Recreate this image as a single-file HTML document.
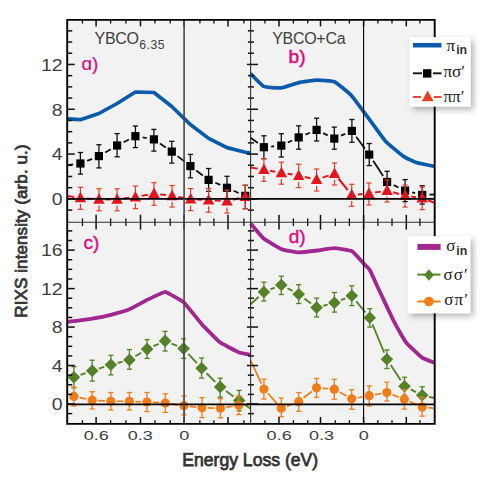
<!DOCTYPE html>
<html><head><meta charset="utf-8"><style>
html,body{margin:0;padding:0;background:#fff;width:491px;height:490px;overflow:hidden}
svg{display:block;font-family:"Liberation Sans",sans-serif}
</style></head><body>
<svg width="491" height="490" viewBox="0 0 491 490">
<defs>
<clipPath id="cpT"><rect x="67.2" y="19.9" width="367.4" height="202.3"/></clipPath>
<clipPath id="cpB"><rect x="67.2" y="222.2" width="367.4" height="201.7"/></clipPath>
<filter id="sh" x="-20%" y="-20%" width="150%" height="150%"><feGaussianBlur in="SourceAlpha" stdDeviation="3.2"/><feOffset dx="3" dy="3"/><feComponentTransfer><feFuncA type="linear" slope="0.3"/></feComponentTransfer><feMerge><feMergeNode/><feMergeNode in="SourceGraphic"/></feMerge></filter>
</defs>
<rect x="67.2" y="19.9" width="367.4" height="404.0" fill="#f2f2f2"/>
<g clip-path="url(#cpT)">
<polyline points="67.0,118.9 80.4,119.7 98.9,113.5 117.1,103.5 135.4,92.0 153.9,92.5 171.8,106.5 190.3,124.5 208.6,138.4 227.0,147.6 245.3,152.2 250.6,153.1" fill="none" stroke="#0a5cab" stroke-width="3.70" stroke-linejoin="round"/>
<path d="M250.60,73.70 C251.36,74.44 261.83,85.57 263.60,86.40 C265.37,87.23 278.95,88.12 281.00,87.90 C283.05,87.68 296.71,83.05 298.80,82.60 C300.89,82.14 314.72,80.15 316.80,80.10 C318.88,80.05 332.39,80.92 334.40,81.80 C336.41,82.68 349.15,93.00 351.20,95.20 C353.25,97.41 367.50,116.92 369.50,119.60 C371.50,122.28 383.52,139.05 385.50,141.20 C387.48,143.35 401.66,155.14 403.50,156.40 C405.34,157.66 415.29,162.22 417.10,162.80 C418.91,163.38 433.49,166.19 434.50,166.40" fill="none" stroke="#0a5cab" stroke-width="3.70" stroke-linejoin="round"/>
</g>
<g clip-path="url(#cpB)">
<path d="M67.00,321.80 C67.29,321.78 72.85,321.33 73.90,321.20 C74.95,321.07 90.66,318.97 92.20,318.70 C93.74,318.43 109.35,315.19 110.90,314.80 C112.45,314.41 127.89,309.92 129.40,309.30 C130.91,308.68 145.61,300.63 147.10,299.90 C148.59,299.17 163.57,291.70 165.10,291.80 C166.63,291.90 182.27,301.05 183.80,302.40 C185.33,303.75 200.28,322.52 201.80,324.20 C203.32,325.88 218.65,341.42 220.20,342.60 C221.75,343.78 237.73,351.99 239.00,352.50 C240.27,353.01 250.12,354.80 250.60,354.90" fill="none" stroke="#a0288e" stroke-width="3.80" stroke-linejoin="round"/>
<path d="M250.60,223.40 C251.45,224.39 261.32,236.58 263.40,238.30 C265.48,240.02 279.43,248.26 281.80,249.20 C284.17,250.14 296.45,252.32 298.90,252.40 C301.35,252.48 316.13,250.68 318.50,250.40 C320.87,250.12 332.17,248.15 334.40,248.20 C336.63,248.25 350.05,250.17 352.00,251.20 C353.95,252.23 362.51,262.35 363.70,263.60 C364.89,264.85 368.77,268.22 369.80,270.00 C370.83,271.78 377.67,287.03 379.20,290.30 C380.73,293.57 391.31,316.19 392.70,319.00 C394.09,321.81 399.08,330.91 400.00,332.50 C400.92,334.09 405.03,341.23 406.50,342.90 C407.97,344.57 420.13,356.27 422.00,357.60 C423.87,358.93 433.67,362.45 434.50,362.80" fill="none" stroke="#a0288e" stroke-width="3.80" stroke-linejoin="round"/>
</g>
<line x1="67.20" y1="195.90" x2="74.17" y2="196.96" stroke="#e5131c" stroke-width="2.00"/>
<line x1="86.68" y1="198.41" x2="92.72" y2="198.89" stroke="#e5131c" stroke-width="2.00"/>
<line x1="105.30" y1="199.40" x2="110.80" y2="199.40" stroke="#e5131c" stroke-width="2.00"/>
<line x1="123.35" y1="198.58" x2="129.15" y2="197.82" stroke="#e5131c" stroke-width="2.00"/>
<line x1="141.60" y1="195.87" x2="147.80" y2="194.73" stroke="#e5131c" stroke-width="2.00"/>
<line x1="160.25" y1="194.39" x2="165.85" y2="195.11" stroke="#e5131c" stroke-width="2.00"/>
<line x1="178.30" y1="197.01" x2="184.40" y2="198.09" stroke="#e5131c" stroke-width="2.00"/>
<line x1="196.89" y1="199.48" x2="202.31" y2="199.72" stroke="#e5131c" stroke-width="2.00"/>
<line x1="214.89" y1="200.41" x2="220.71" y2="200.79" stroke="#e5131c" stroke-width="2.00"/>
<line x1="233.11" y1="199.66" x2="239.19" y2="198.14" stroke="#e5131c" stroke-width="2.00"/>
<line x1="67.20" y1="165.20" x2="73.16" y2="164.43" stroke="#111" stroke-width="1.80"/>
<line x1="87.18" y1="160.79" x2="92.12" y2="158.81" stroke="#111" stroke-width="1.80"/>
<line x1="105.21" y1="152.43" x2="110.79" y2="149.17" stroke="#111" stroke-width="1.80"/>
<line x1="123.61" y1="142.19" x2="128.89" y2="139.51" stroke="#111" stroke-width="1.80"/>
<line x1="142.59" y1="137.44" x2="146.71" y2="138.16" stroke="#111" stroke-width="1.80"/>
<line x1="159.93" y1="143.51" x2="165.77" y2="147.49" stroke="#111" stroke-width="1.80"/>
<line x1="177.56" y1="156.09" x2="184.64" y2="161.61" stroke="#111" stroke-width="1.80"/>
<line x1="196.22" y1="170.51" x2="202.78" y2="175.49" stroke="#111" stroke-width="1.80"/>
<line x1="215.31" y1="182.78" x2="220.29" y2="184.92" stroke="#111" stroke-width="1.80"/>
<line x1="233.68" y1="190.75" x2="238.62" y2="192.95" stroke="#111" stroke-width="1.80"/>
<line x1="250.60" y1="167.50" x2="257.68" y2="168.62" stroke="#e5131c" stroke-width="2.00"/>
<line x1="270.10" y1="170.73" x2="275.20" y2="171.67" stroke="#e5131c" stroke-width="2.00"/>
<line x1="287.62" y1="173.77" x2="292.48" y2="174.53" stroke="#e5131c" stroke-width="2.00"/>
<line x1="304.84" y1="176.91" x2="310.46" y2="178.19" stroke="#e5131c" stroke-width="2.00"/>
<line x1="322.57" y1="177.60" x2="328.53" y2="175.60" stroke="#e5131c" stroke-width="2.00"/>
<line x1="338.46" y1="178.50" x2="347.74" y2="190.00" stroke="#e5131c" stroke-width="2.00"/>
<line x1="357.98" y1="194.43" x2="362.62" y2="194.07" stroke="#e5131c" stroke-width="2.00"/>
<line x1="375.12" y1="192.58" x2="380.88" y2="191.62" stroke="#e5131c" stroke-width="2.00"/>
<line x1="393.16" y1="192.32" x2="399.04" y2="193.98" stroke="#e5131c" stroke-width="2.00"/>
<line x1="411.34" y1="196.54" x2="415.96" y2="197.16" stroke="#e5131c" stroke-width="2.00"/>
<line x1="428.07" y1="200.29" x2="434.50" y2="202.80" stroke="#e5131c" stroke-width="2.00"/>
<line x1="250.60" y1="137.80" x2="257.94" y2="142.99" stroke="#111" stroke-width="1.80"/>
<line x1="271.17" y1="146.53" x2="274.03" y2="146.27" stroke="#111" stroke-width="1.80"/>
<line x1="287.90" y1="142.49" x2="292.10" y2="140.51" stroke="#111" stroke-width="1.80"/>
<line x1="305.43" y1="134.58" x2="309.87" y2="132.72" stroke="#111" stroke-width="1.80"/>
<line x1="323.15" y1="133.12" x2="327.75" y2="135.38" stroke="#111" stroke-width="1.80"/>
<line x1="340.99" y1="135.67" x2="345.21" y2="133.83" stroke="#111" stroke-width="1.80"/>
<line x1="356.20" y1="136.80" x2="364.90" y2="148.70" stroke="#111" stroke-width="1.80"/>
<line x1="373.19" y1="160.71" x2="383.11" y2="175.89" stroke="#111" stroke-width="1.80"/>
<line x1="393.69" y1="185.15" x2="398.51" y2="187.45" stroke="#111" stroke-width="1.80"/>
<line x1="412.18" y1="192.38" x2="415.12" y2="193.12" stroke="#111" stroke-width="1.80"/>
<line x1="429.50" y1="194.66" x2="434.50" y2="194.50" stroke="#111" stroke-width="1.80"/>
<line x1="67.20" y1="395.30" x2="67.98" y2="395.43" stroke="#f07d19" stroke-width="1.75"/>
<line x1="79.77" y1="397.62" x2="86.33" y2="398.98" stroke="#f07d19" stroke-width="1.75"/>
<line x1="98.19" y1="400.55" x2="104.91" y2="400.95" stroke="#f07d19" stroke-width="1.75"/>
<line x1="116.90" y1="401.30" x2="123.40" y2="401.30" stroke="#f07d19" stroke-width="1.75"/>
<line x1="135.40" y1="401.54" x2="140.90" y2="401.76" stroke="#f07d19" stroke-width="1.75"/>
<line x1="152.89" y1="402.33" x2="159.31" y2="402.67" stroke="#f07d19" stroke-width="1.75"/>
<line x1="171.24" y1="403.86" x2="177.96" y2="404.84" stroke="#f07d19" stroke-width="1.75"/>
<line x1="189.86" y1="406.39" x2="196.04" y2="407.11" stroke="#f07d19" stroke-width="1.75"/>
<line x1="208.00" y1="407.93" x2="214.40" y2="408.07" stroke="#f07d19" stroke-width="1.75"/>
<line x1="226.33" y1="407.27" x2="232.87" y2="406.23" stroke="#f07d19" stroke-width="1.75"/>
<line x1="244.79" y1="404.89" x2="250.60" y2="404.50" stroke="#f07d19" stroke-width="1.75"/>
<line x1="80.50" y1="374.96" x2="85.60" y2="373.14" stroke="#558228" stroke-width="1.85"/>
<line x1="98.87" y1="368.66" x2="104.23" y2="366.94" stroke="#558228" stroke-width="1.85"/>
<line x1="117.67" y1="363.01" x2="122.63" y2="361.69" stroke="#558228" stroke-width="1.85"/>
<line x1="135.38" y1="356.25" x2="141.12" y2="352.75" stroke="#558228" stroke-width="1.85"/>
<line x1="153.47" y1="346.20" x2="158.73" y2="343.80" stroke="#558228" stroke-width="1.85"/>
<line x1="171.56" y1="343.59" x2="177.14" y2="345.91" stroke="#558228" stroke-width="1.85"/>
<line x1="188.32" y1="353.77" x2="196.88" y2="363.13" stroke="#558228" stroke-width="1.85"/>
<line x1="206.55" y1="373.25" x2="215.25" y2="381.95" stroke="#558228" stroke-width="1.85"/>
<line x1="225.88" y1="390.99" x2="233.52" y2="396.51" stroke="#558228" stroke-width="1.85"/>
<line x1="244.88" y1="404.69" x2="250.60" y2="408.80" stroke="#558228" stroke-width="1.85"/>
<line x1="250.60" y1="360.40" x2="261.37" y2="383.56" stroke="#f07d19" stroke-width="1.75"/>
<line x1="267.93" y1="393.45" x2="277.27" y2="403.75" stroke="#f07d19" stroke-width="1.75"/>
<line x1="286.92" y1="406.10" x2="293.08" y2="403.80" stroke="#f07d19" stroke-width="1.75"/>
<line x1="303.43" y1="398.01" x2="311.77" y2="391.49" stroke="#f07d19" stroke-width="1.75"/>
<line x1="322.48" y1="388.27" x2="328.32" y2="388.73" stroke="#f07d19" stroke-width="1.75"/>
<line x1="339.55" y1="392.10" x2="346.45" y2="395.90" stroke="#f07d19" stroke-width="1.75"/>
<line x1="357.61" y1="397.75" x2="363.29" y2="396.75" stroke="#f07d19" stroke-width="1.75"/>
<line x1="375.10" y1="394.63" x2="381.00" y2="393.57" stroke="#f07d19" stroke-width="1.75"/>
<line x1="392.49" y1="394.68" x2="398.71" y2="397.12" stroke="#f07d19" stroke-width="1.75"/>
<line x1="409.80" y1="401.70" x2="416.70" y2="404.70" stroke="#f07d19" stroke-width="1.75"/>
<line x1="428.17" y1="407.68" x2="434.50" y2="408.30" stroke="#f07d19" stroke-width="1.75"/>
<line x1="250.60" y1="304.30" x2="258.76" y2="296.75" stroke="#558228" stroke-width="1.85"/>
<line x1="270.39" y1="289.39" x2="274.81" y2="287.61" stroke="#558228" stroke-width="1.85"/>
<line x1="287.49" y1="288.27" x2="292.51" y2="290.93" stroke="#558228" stroke-width="1.85"/>
<line x1="304.30" y1="298.39" x2="311.00" y2="303.41" stroke="#558228" stroke-width="1.85"/>
<line x1="323.35" y1="305.74" x2="327.65" y2="304.56" stroke="#558228" stroke-width="1.85"/>
<line x1="340.91" y1="300.12" x2="345.29" y2="298.38" stroke="#558228" stroke-width="1.85"/>
<line x1="356.23" y1="301.22" x2="365.37" y2="312.38" stroke="#558228" stroke-width="1.85"/>
<line x1="372.47" y1="324.27" x2="384.23" y2="352.73" stroke="#558228" stroke-width="1.85"/>
<line x1="390.72" y1="365.06" x2="400.68" y2="380.34" stroke="#558228" stroke-width="1.85"/>
<line x1="410.73" y1="389.40" x2="415.97" y2="392.10" stroke="#558228" stroke-width="1.85"/>
<line x1="429.04" y1="396.80" x2="434.50" y2="398.00" stroke="#558228" stroke-width="1.85"/>
<line x1="80.40" y1="152.50" x2="80.40" y2="174.10" stroke="#111" stroke-width="1.30"/>
<line x1="77.80" y1="152.50" x2="83.00" y2="152.50" stroke="#111" stroke-width="1.30"/>
<line x1="77.80" y1="174.10" x2="83.00" y2="174.10" stroke="#111" stroke-width="1.30"/>
<rect x="76.30" y="159.40" width="8.20" height="8.20" fill="#000"/>
<line x1="98.90" y1="144.70" x2="98.90" y2="167.90" stroke="#111" stroke-width="1.30"/>
<line x1="96.30" y1="144.70" x2="101.50" y2="144.70" stroke="#111" stroke-width="1.30"/>
<line x1="96.30" y1="167.90" x2="101.50" y2="167.90" stroke="#111" stroke-width="1.30"/>
<rect x="94.80" y="152.00" width="8.20" height="8.20" fill="#000"/>
<line x1="117.10" y1="133.60" x2="117.10" y2="156.80" stroke="#111" stroke-width="1.30"/>
<line x1="114.50" y1="133.60" x2="119.70" y2="133.60" stroke="#111" stroke-width="1.30"/>
<line x1="114.50" y1="156.80" x2="119.70" y2="156.80" stroke="#111" stroke-width="1.30"/>
<rect x="113.00" y="141.40" width="8.20" height="8.20" fill="#000"/>
<line x1="135.40" y1="126.00" x2="135.40" y2="147.60" stroke="#111" stroke-width="1.30"/>
<line x1="132.80" y1="126.00" x2="138.00" y2="126.00" stroke="#111" stroke-width="1.30"/>
<line x1="132.80" y1="147.60" x2="138.00" y2="147.60" stroke="#111" stroke-width="1.30"/>
<rect x="131.30" y="132.10" width="8.20" height="8.20" fill="#000"/>
<line x1="153.90" y1="129.40" x2="153.90" y2="151.10" stroke="#111" stroke-width="1.30"/>
<line x1="151.30" y1="129.40" x2="156.50" y2="129.40" stroke="#111" stroke-width="1.30"/>
<line x1="151.30" y1="151.10" x2="156.50" y2="151.10" stroke="#111" stroke-width="1.30"/>
<rect x="149.80" y="135.30" width="8.20" height="8.20" fill="#000"/>
<line x1="171.80" y1="141.30" x2="171.80" y2="163.10" stroke="#111" stroke-width="1.30"/>
<line x1="169.20" y1="141.30" x2="174.40" y2="141.30" stroke="#111" stroke-width="1.30"/>
<line x1="169.20" y1="163.10" x2="174.40" y2="163.10" stroke="#111" stroke-width="1.30"/>
<rect x="167.70" y="147.50" width="8.20" height="8.20" fill="#000"/>
<line x1="190.40" y1="154.40" x2="190.40" y2="177.80" stroke="#111" stroke-width="1.30"/>
<line x1="187.80" y1="154.40" x2="193.00" y2="154.40" stroke="#111" stroke-width="1.30"/>
<line x1="187.80" y1="177.80" x2="193.00" y2="177.80" stroke="#111" stroke-width="1.30"/>
<rect x="186.30" y="162.00" width="8.20" height="8.20" fill="#000"/>
<line x1="208.60" y1="168.50" x2="208.60" y2="191.20" stroke="#111" stroke-width="1.30"/>
<line x1="206.00" y1="168.50" x2="211.20" y2="168.50" stroke="#111" stroke-width="1.30"/>
<line x1="206.00" y1="191.20" x2="211.20" y2="191.20" stroke="#111" stroke-width="1.30"/>
<rect x="204.50" y="175.80" width="8.20" height="8.20" fill="#000"/>
<line x1="227.00" y1="176.30" x2="227.00" y2="199.20" stroke="#111" stroke-width="1.30"/>
<line x1="224.40" y1="176.30" x2="229.60" y2="176.30" stroke="#111" stroke-width="1.30"/>
<line x1="224.40" y1="199.20" x2="229.60" y2="199.20" stroke="#111" stroke-width="1.30"/>
<rect x="222.90" y="183.70" width="8.20" height="8.20" fill="#000"/>
<line x1="245.30" y1="185.30" x2="245.30" y2="208.70" stroke="#111" stroke-width="1.30"/>
<line x1="242.70" y1="185.30" x2="247.90" y2="185.30" stroke="#111" stroke-width="1.30"/>
<line x1="242.70" y1="208.70" x2="247.90" y2="208.70" stroke="#111" stroke-width="1.30"/>
<rect x="241.20" y="191.80" width="8.20" height="8.20" fill="#000"/>
<line x1="80.40" y1="187.30" x2="80.40" y2="198.60" stroke="#e8392a" stroke-width="1.20"/>
<line x1="80.40" y1="204.10" x2="80.40" y2="209.30" stroke="#e8392a" stroke-width="1.20"/>
<line x1="77.80" y1="187.30" x2="83.00" y2="187.30" stroke="#e8392a" stroke-width="1.20"/>
<line x1="77.80" y1="209.30" x2="83.00" y2="209.30" stroke="#e8392a" stroke-width="1.20"/>
<polygon points="80.40,191.80 74.70,202.30 86.10,202.30" fill="#e5131c"/>
<line x1="99.00" y1="188.80" x2="99.00" y2="200.10" stroke="#e8392a" stroke-width="1.20"/>
<line x1="99.00" y1="205.60" x2="99.00" y2="210.80" stroke="#e8392a" stroke-width="1.20"/>
<line x1="96.40" y1="188.80" x2="101.60" y2="188.80" stroke="#e8392a" stroke-width="1.20"/>
<line x1="96.40" y1="210.80" x2="101.60" y2="210.80" stroke="#e8392a" stroke-width="1.20"/>
<polygon points="99.00,193.30 93.30,203.80 104.70,203.80" fill="#e5131c"/>
<line x1="117.10" y1="188.80" x2="117.10" y2="200.10" stroke="#e8392a" stroke-width="1.20"/>
<line x1="117.10" y1="205.60" x2="117.10" y2="210.80" stroke="#e8392a" stroke-width="1.20"/>
<line x1="114.50" y1="188.80" x2="119.70" y2="188.80" stroke="#e8392a" stroke-width="1.20"/>
<line x1="114.50" y1="210.80" x2="119.70" y2="210.80" stroke="#e8392a" stroke-width="1.20"/>
<polygon points="117.10,193.30 111.40,203.80 122.80,203.80" fill="#e5131c"/>
<line x1="135.40" y1="186.10" x2="135.40" y2="197.70" stroke="#e8392a" stroke-width="1.20"/>
<line x1="135.40" y1="203.20" x2="135.40" y2="208.70" stroke="#e8392a" stroke-width="1.20"/>
<line x1="132.80" y1="186.10" x2="138.00" y2="186.10" stroke="#e8392a" stroke-width="1.20"/>
<line x1="132.80" y1="208.70" x2="138.00" y2="208.70" stroke="#e8392a" stroke-width="1.20"/>
<polygon points="135.40,190.90 129.70,201.40 141.10,201.40" fill="#e5131c"/>
<line x1="154.00" y1="182.70" x2="154.00" y2="194.30" stroke="#e8392a" stroke-width="1.20"/>
<line x1="154.00" y1="199.80" x2="154.00" y2="205.30" stroke="#e8392a" stroke-width="1.20"/>
<line x1="151.40" y1="182.70" x2="156.60" y2="182.70" stroke="#e8392a" stroke-width="1.20"/>
<line x1="151.40" y1="205.30" x2="156.60" y2="205.30" stroke="#e8392a" stroke-width="1.20"/>
<polygon points="154.00,187.50 148.30,198.00 159.70,198.00" fill="#e5131c"/>
<line x1="172.10" y1="185.50" x2="172.10" y2="196.60" stroke="#e8392a" stroke-width="1.20"/>
<line x1="172.10" y1="202.10" x2="172.10" y2="207.10" stroke="#e8392a" stroke-width="1.20"/>
<line x1="169.50" y1="185.50" x2="174.70" y2="185.50" stroke="#e8392a" stroke-width="1.20"/>
<line x1="169.50" y1="207.10" x2="174.70" y2="207.10" stroke="#e8392a" stroke-width="1.20"/>
<polygon points="172.10,189.80 166.40,200.30 177.80,200.30" fill="#e5131c"/>
<line x1="190.60" y1="188.60" x2="190.60" y2="199.90" stroke="#e8392a" stroke-width="1.20"/>
<line x1="190.60" y1="205.40" x2="190.60" y2="210.60" stroke="#e8392a" stroke-width="1.20"/>
<line x1="188.00" y1="188.60" x2="193.20" y2="188.60" stroke="#e8392a" stroke-width="1.20"/>
<line x1="188.00" y1="210.60" x2="193.20" y2="210.60" stroke="#e8392a" stroke-width="1.20"/>
<polygon points="190.60,193.10 184.90,203.60 196.30,203.60" fill="#e5131c"/>
<line x1="208.60" y1="188.60" x2="208.60" y2="200.70" stroke="#e8392a" stroke-width="1.20"/>
<line x1="208.60" y1="206.20" x2="208.60" y2="212.20" stroke="#e8392a" stroke-width="1.20"/>
<line x1="206.00" y1="188.60" x2="211.20" y2="188.60" stroke="#e8392a" stroke-width="1.20"/>
<line x1="206.00" y1="212.20" x2="211.20" y2="212.20" stroke="#e8392a" stroke-width="1.20"/>
<polygon points="208.60,193.90 202.90,204.40 214.30,204.40" fill="#e5131c"/>
<line x1="227.00" y1="190.20" x2="227.00" y2="201.90" stroke="#e8392a" stroke-width="1.20"/>
<line x1="227.00" y1="207.40" x2="227.00" y2="213.00" stroke="#e8392a" stroke-width="1.20"/>
<line x1="224.40" y1="190.20" x2="229.60" y2="190.20" stroke="#e8392a" stroke-width="1.20"/>
<line x1="224.40" y1="213.00" x2="229.60" y2="213.00" stroke="#e8392a" stroke-width="1.20"/>
<polygon points="227.00,195.10 221.30,205.60 232.70,205.60" fill="#e5131c"/>
<line x1="245.30" y1="185.30" x2="245.30" y2="197.30" stroke="#e8392a" stroke-width="1.20"/>
<line x1="245.30" y1="202.80" x2="245.30" y2="208.70" stroke="#e8392a" stroke-width="1.20"/>
<line x1="242.70" y1="185.30" x2="247.90" y2="185.30" stroke="#e8392a" stroke-width="1.20"/>
<line x1="242.70" y1="208.70" x2="247.90" y2="208.70" stroke="#e8392a" stroke-width="1.20"/>
<polygon points="245.30,190.50 239.60,201.00 251.00,201.00" fill="#e5131c"/>
<line x1="263.90" y1="135.80" x2="263.90" y2="158.70" stroke="#111" stroke-width="1.30"/>
<line x1="261.30" y1="135.80" x2="266.50" y2="135.80" stroke="#111" stroke-width="1.30"/>
<line x1="261.30" y1="158.70" x2="266.50" y2="158.70" stroke="#111" stroke-width="1.30"/>
<rect x="259.80" y="143.10" width="8.20" height="8.20" fill="#000"/>
<line x1="281.30" y1="133.70" x2="281.30" y2="157.00" stroke="#111" stroke-width="1.30"/>
<line x1="278.70" y1="133.70" x2="283.90" y2="133.70" stroke="#111" stroke-width="1.30"/>
<line x1="278.70" y1="157.00" x2="283.90" y2="157.00" stroke="#111" stroke-width="1.30"/>
<rect x="277.20" y="141.50" width="8.20" height="8.20" fill="#000"/>
<line x1="298.70" y1="125.80" x2="298.70" y2="149.20" stroke="#111" stroke-width="1.30"/>
<line x1="296.10" y1="125.80" x2="301.30" y2="125.80" stroke="#111" stroke-width="1.30"/>
<line x1="296.10" y1="149.20" x2="301.30" y2="149.20" stroke="#111" stroke-width="1.30"/>
<rect x="294.60" y="133.30" width="8.20" height="8.20" fill="#000"/>
<line x1="316.60" y1="118.20" x2="316.60" y2="141.00" stroke="#111" stroke-width="1.30"/>
<line x1="314.00" y1="118.20" x2="319.20" y2="118.20" stroke="#111" stroke-width="1.30"/>
<line x1="314.00" y1="141.00" x2="319.20" y2="141.00" stroke="#111" stroke-width="1.30"/>
<rect x="312.50" y="125.80" width="8.20" height="8.20" fill="#000"/>
<line x1="334.30" y1="127.10" x2="334.30" y2="149.20" stroke="#111" stroke-width="1.30"/>
<line x1="331.70" y1="127.10" x2="336.90" y2="127.10" stroke="#111" stroke-width="1.30"/>
<line x1="331.70" y1="149.20" x2="336.90" y2="149.20" stroke="#111" stroke-width="1.30"/>
<rect x="330.20" y="134.50" width="8.20" height="8.20" fill="#000"/>
<line x1="351.90" y1="119.50" x2="351.90" y2="142.30" stroke="#111" stroke-width="1.30"/>
<line x1="349.30" y1="119.50" x2="354.50" y2="119.50" stroke="#111" stroke-width="1.30"/>
<line x1="349.30" y1="142.30" x2="354.50" y2="142.30" stroke="#111" stroke-width="1.30"/>
<rect x="347.80" y="126.80" width="8.20" height="8.20" fill="#000"/>
<line x1="369.20" y1="143.50" x2="369.20" y2="165.60" stroke="#111" stroke-width="1.30"/>
<line x1="366.60" y1="143.50" x2="371.80" y2="143.50" stroke="#111" stroke-width="1.30"/>
<line x1="366.60" y1="165.60" x2="371.80" y2="165.60" stroke="#111" stroke-width="1.30"/>
<rect x="365.10" y="150.50" width="8.20" height="8.20" fill="#000"/>
<line x1="387.10" y1="171.30" x2="387.10" y2="192.70" stroke="#111" stroke-width="1.30"/>
<line x1="384.50" y1="171.30" x2="389.70" y2="171.30" stroke="#111" stroke-width="1.30"/>
<line x1="384.50" y1="192.70" x2="389.70" y2="192.70" stroke="#111" stroke-width="1.30"/>
<rect x="383.00" y="177.90" width="8.20" height="8.20" fill="#000"/>
<line x1="405.10" y1="179.60" x2="405.10" y2="201.60" stroke="#111" stroke-width="1.30"/>
<line x1="402.50" y1="179.60" x2="407.70" y2="179.60" stroke="#111" stroke-width="1.30"/>
<line x1="402.50" y1="201.60" x2="407.70" y2="201.60" stroke="#111" stroke-width="1.30"/>
<rect x="401.00" y="186.50" width="8.20" height="8.20" fill="#000"/>
<line x1="422.20" y1="185.70" x2="422.20" y2="204.10" stroke="#111" stroke-width="1.30"/>
<line x1="419.60" y1="185.70" x2="424.80" y2="185.70" stroke="#111" stroke-width="1.30"/>
<line x1="419.60" y1="204.10" x2="424.80" y2="204.10" stroke="#111" stroke-width="1.30"/>
<rect x="418.10" y="190.80" width="8.20" height="8.20" fill="#000"/>
<line x1="263.90" y1="158.70" x2="263.90" y2="170.30" stroke="#e8392a" stroke-width="1.20"/>
<line x1="263.90" y1="175.80" x2="263.90" y2="181.30" stroke="#e8392a" stroke-width="1.20"/>
<line x1="261.30" y1="158.70" x2="266.50" y2="158.70" stroke="#e8392a" stroke-width="1.20"/>
<line x1="261.30" y1="181.30" x2="266.50" y2="181.30" stroke="#e8392a" stroke-width="1.20"/>
<polygon points="263.90,163.50 258.20,174.00 269.60,174.00" fill="#e5131c"/>
<line x1="281.40" y1="162.20" x2="281.40" y2="173.50" stroke="#e8392a" stroke-width="1.20"/>
<line x1="281.40" y1="179.00" x2="281.40" y2="184.20" stroke="#e8392a" stroke-width="1.20"/>
<line x1="278.80" y1="162.20" x2="284.00" y2="162.20" stroke="#e8392a" stroke-width="1.20"/>
<line x1="278.80" y1="184.20" x2="284.00" y2="184.20" stroke="#e8392a" stroke-width="1.20"/>
<polygon points="281.40,166.70 275.70,177.20 287.10,177.20" fill="#e5131c"/>
<line x1="298.70" y1="164.20" x2="298.70" y2="176.20" stroke="#e8392a" stroke-width="1.20"/>
<line x1="298.70" y1="181.70" x2="298.70" y2="187.60" stroke="#e8392a" stroke-width="1.20"/>
<line x1="296.10" y1="164.20" x2="301.30" y2="164.20" stroke="#e8392a" stroke-width="1.20"/>
<line x1="296.10" y1="187.60" x2="301.30" y2="187.60" stroke="#e8392a" stroke-width="1.20"/>
<polygon points="298.70,169.40 293.00,179.90 304.40,179.90" fill="#e5131c"/>
<line x1="316.60" y1="169.00" x2="316.60" y2="180.30" stroke="#e8392a" stroke-width="1.20"/>
<line x1="316.60" y1="185.80" x2="316.60" y2="191.00" stroke="#e8392a" stroke-width="1.20"/>
<line x1="314.00" y1="169.00" x2="319.20" y2="169.00" stroke="#e8392a" stroke-width="1.20"/>
<line x1="314.00" y1="191.00" x2="319.20" y2="191.00" stroke="#e8392a" stroke-width="1.20"/>
<polygon points="316.60,173.50 310.90,184.00 322.30,184.00" fill="#e5131c"/>
<line x1="334.50" y1="163.00" x2="334.50" y2="174.30" stroke="#e8392a" stroke-width="1.20"/>
<line x1="334.50" y1="179.80" x2="334.50" y2="185.00" stroke="#e8392a" stroke-width="1.20"/>
<line x1="331.90" y1="163.00" x2="337.10" y2="163.00" stroke="#e8392a" stroke-width="1.20"/>
<line x1="331.90" y1="185.00" x2="337.10" y2="185.00" stroke="#e8392a" stroke-width="1.20"/>
<polygon points="334.50,167.50 328.80,178.00 340.20,178.00" fill="#e5131c"/>
<line x1="351.70" y1="184.30" x2="351.70" y2="195.60" stroke="#e8392a" stroke-width="1.20"/>
<line x1="351.70" y1="201.10" x2="351.70" y2="206.30" stroke="#e8392a" stroke-width="1.20"/>
<line x1="349.10" y1="184.30" x2="354.30" y2="184.30" stroke="#e8392a" stroke-width="1.20"/>
<line x1="349.10" y1="206.30" x2="354.30" y2="206.30" stroke="#e8392a" stroke-width="1.20"/>
<polygon points="351.70,188.80 346.00,199.30 357.40,199.30" fill="#e5131c"/>
<line x1="368.90" y1="183.00" x2="368.90" y2="194.30" stroke="#e8392a" stroke-width="1.20"/>
<line x1="368.90" y1="199.80" x2="368.90" y2="205.00" stroke="#e8392a" stroke-width="1.20"/>
<line x1="366.30" y1="183.00" x2="371.50" y2="183.00" stroke="#e8392a" stroke-width="1.20"/>
<line x1="366.30" y1="205.00" x2="371.50" y2="205.00" stroke="#e8392a" stroke-width="1.20"/>
<polygon points="368.90,187.50 363.20,198.00 374.60,198.00" fill="#e5131c"/>
<line x1="387.10" y1="180.00" x2="387.10" y2="191.30" stroke="#e8392a" stroke-width="1.20"/>
<line x1="387.10" y1="196.80" x2="387.10" y2="202.00" stroke="#e8392a" stroke-width="1.20"/>
<line x1="384.50" y1="180.00" x2="389.70" y2="180.00" stroke="#e8392a" stroke-width="1.20"/>
<line x1="384.50" y1="202.00" x2="389.70" y2="202.00" stroke="#e8392a" stroke-width="1.20"/>
<polygon points="387.10,184.50 381.40,195.00 392.80,195.00" fill="#e5131c"/>
<line x1="405.10" y1="185.10" x2="405.10" y2="196.40" stroke="#e8392a" stroke-width="1.20"/>
<line x1="405.10" y1="201.90" x2="405.10" y2="207.10" stroke="#e8392a" stroke-width="1.20"/>
<line x1="402.50" y1="185.10" x2="407.70" y2="185.10" stroke="#e8392a" stroke-width="1.20"/>
<line x1="402.50" y1="207.10" x2="407.70" y2="207.10" stroke="#e8392a" stroke-width="1.20"/>
<polygon points="405.10,189.60 399.40,200.10 410.80,200.10" fill="#e5131c"/>
<line x1="422.20" y1="187.20" x2="422.20" y2="198.70" stroke="#e8392a" stroke-width="1.20"/>
<line x1="422.20" y1="204.20" x2="422.20" y2="209.60" stroke="#e8392a" stroke-width="1.20"/>
<line x1="419.60" y1="187.20" x2="424.80" y2="187.20" stroke="#e8392a" stroke-width="1.20"/>
<line x1="419.60" y1="209.60" x2="424.80" y2="209.60" stroke="#e8392a" stroke-width="1.20"/>
<polygon points="422.20,191.90 416.50,202.40 427.90,202.40" fill="#e5131c"/>
<line x1="73.90" y1="366.70" x2="73.90" y2="387.90" stroke="#558228" stroke-width="1.30"/>
<line x1="71.30" y1="366.70" x2="76.50" y2="366.70" stroke="#558228" stroke-width="1.30"/>
<line x1="71.30" y1="387.90" x2="76.50" y2="387.90" stroke="#558228" stroke-width="1.30"/>
<polygon points="73.90,371.00 80.20,377.30 73.90,383.60 67.60,377.30" fill="#558228"/>
<line x1="92.20" y1="360.20" x2="92.20" y2="381.10" stroke="#558228" stroke-width="1.30"/>
<line x1="89.60" y1="360.20" x2="94.80" y2="360.20" stroke="#558228" stroke-width="1.30"/>
<line x1="89.60" y1="381.10" x2="94.80" y2="381.10" stroke="#558228" stroke-width="1.30"/>
<polygon points="92.20,364.50 98.50,370.80 92.20,377.10 85.90,370.80" fill="#558228"/>
<line x1="110.90" y1="355.30" x2="110.90" y2="374.90" stroke="#558228" stroke-width="1.30"/>
<line x1="108.30" y1="355.30" x2="113.50" y2="355.30" stroke="#558228" stroke-width="1.30"/>
<line x1="108.30" y1="374.90" x2="113.50" y2="374.90" stroke="#558228" stroke-width="1.30"/>
<polygon points="110.90,358.50 117.20,364.80 110.90,371.10 104.60,364.80" fill="#558228"/>
<line x1="129.40" y1="349.60" x2="129.40" y2="369.20" stroke="#558228" stroke-width="1.30"/>
<line x1="126.80" y1="349.60" x2="132.00" y2="349.60" stroke="#558228" stroke-width="1.30"/>
<line x1="126.80" y1="369.20" x2="132.00" y2="369.20" stroke="#558228" stroke-width="1.30"/>
<polygon points="129.40,353.60 135.70,359.90 129.40,366.20 123.10,359.90" fill="#558228"/>
<line x1="147.10" y1="339.60" x2="147.10" y2="358.40" stroke="#558228" stroke-width="1.30"/>
<line x1="144.50" y1="339.60" x2="149.70" y2="339.60" stroke="#558228" stroke-width="1.30"/>
<line x1="144.50" y1="358.40" x2="149.70" y2="358.40" stroke="#558228" stroke-width="1.30"/>
<polygon points="147.10,342.80 153.40,349.10 147.10,355.40 140.80,349.10" fill="#558228"/>
<line x1="165.10" y1="331.40" x2="165.10" y2="351.00" stroke="#558228" stroke-width="1.30"/>
<line x1="162.50" y1="331.40" x2="167.70" y2="331.40" stroke="#558228" stroke-width="1.30"/>
<line x1="162.50" y1="351.00" x2="167.70" y2="351.00" stroke="#558228" stroke-width="1.30"/>
<polygon points="165.10,334.60 171.40,340.90 165.10,347.20 158.80,340.90" fill="#558228"/>
<line x1="183.60" y1="338.80" x2="183.60" y2="358.40" stroke="#558228" stroke-width="1.30"/>
<line x1="181.00" y1="338.80" x2="186.20" y2="338.80" stroke="#558228" stroke-width="1.30"/>
<line x1="181.00" y1="358.40" x2="186.20" y2="358.40" stroke="#558228" stroke-width="1.30"/>
<polygon points="183.60,342.30 189.90,348.60 183.60,354.90 177.30,348.60" fill="#558228"/>
<line x1="201.60" y1="358.00" x2="201.60" y2="378.10" stroke="#558228" stroke-width="1.30"/>
<line x1="199.00" y1="358.00" x2="204.20" y2="358.00" stroke="#558228" stroke-width="1.30"/>
<line x1="199.00" y1="378.10" x2="204.20" y2="378.10" stroke="#558228" stroke-width="1.30"/>
<polygon points="201.60,362.00 207.90,368.30 201.60,374.60 195.30,368.30" fill="#558228"/>
<line x1="220.20" y1="378.20" x2="220.20" y2="397.10" stroke="#558228" stroke-width="1.30"/>
<line x1="217.60" y1="378.20" x2="222.80" y2="378.20" stroke="#558228" stroke-width="1.30"/>
<line x1="217.60" y1="397.10" x2="222.80" y2="397.10" stroke="#558228" stroke-width="1.30"/>
<polygon points="220.20,380.60 226.50,386.90 220.20,393.20 213.90,386.90" fill="#558228"/>
<line x1="239.20" y1="390.40" x2="239.20" y2="410.80" stroke="#558228" stroke-width="1.30"/>
<line x1="236.60" y1="390.40" x2="241.80" y2="390.40" stroke="#558228" stroke-width="1.30"/>
<line x1="236.60" y1="410.80" x2="241.80" y2="410.80" stroke="#558228" stroke-width="1.30"/>
<polygon points="239.20,394.30 245.50,400.60 239.20,406.90 232.90,400.60" fill="#558228"/>
<line x1="73.90" y1="387.10" x2="73.90" y2="405.90" stroke="#f07d19" stroke-width="1.30"/>
<line x1="71.30" y1="387.10" x2="76.50" y2="387.10" stroke="#f07d19" stroke-width="1.30"/>
<line x1="71.30" y1="405.90" x2="76.50" y2="405.90" stroke="#f07d19" stroke-width="1.30"/>
<circle cx="73.90" cy="396.40" r="4.60" fill="#f07d19"/>
<line x1="92.20" y1="391.70" x2="92.20" y2="409.00" stroke="#f07d19" stroke-width="1.30"/>
<line x1="89.60" y1="391.70" x2="94.80" y2="391.70" stroke="#f07d19" stroke-width="1.30"/>
<line x1="89.60" y1="409.00" x2="94.80" y2="409.00" stroke="#f07d19" stroke-width="1.30"/>
<circle cx="92.20" cy="400.20" r="4.60" fill="#f07d19"/>
<line x1="110.90" y1="392.50" x2="110.90" y2="410.00" stroke="#f07d19" stroke-width="1.30"/>
<line x1="108.30" y1="392.50" x2="113.50" y2="392.50" stroke="#f07d19" stroke-width="1.30"/>
<line x1="108.30" y1="410.00" x2="113.50" y2="410.00" stroke="#f07d19" stroke-width="1.30"/>
<circle cx="110.90" cy="401.30" r="4.60" fill="#f07d19"/>
<line x1="129.40" y1="392.50" x2="129.40" y2="410.00" stroke="#f07d19" stroke-width="1.30"/>
<line x1="126.80" y1="392.50" x2="132.00" y2="392.50" stroke="#f07d19" stroke-width="1.30"/>
<line x1="126.80" y1="410.00" x2="132.00" y2="410.00" stroke="#f07d19" stroke-width="1.30"/>
<circle cx="129.40" cy="401.30" r="4.60" fill="#f07d19"/>
<line x1="146.90" y1="392.50" x2="146.90" y2="411.50" stroke="#f07d19" stroke-width="1.30"/>
<line x1="144.30" y1="392.50" x2="149.50" y2="392.50" stroke="#f07d19" stroke-width="1.30"/>
<line x1="144.30" y1="411.50" x2="149.50" y2="411.50" stroke="#f07d19" stroke-width="1.30"/>
<circle cx="146.90" cy="402.00" r="4.60" fill="#f07d19"/>
<line x1="165.30" y1="393.70" x2="165.30" y2="412.40" stroke="#f07d19" stroke-width="1.30"/>
<line x1="162.70" y1="393.70" x2="167.90" y2="393.70" stroke="#f07d19" stroke-width="1.30"/>
<line x1="162.70" y1="412.40" x2="167.90" y2="412.40" stroke="#f07d19" stroke-width="1.30"/>
<circle cx="165.30" cy="403.00" r="4.60" fill="#f07d19"/>
<line x1="183.90" y1="395.90" x2="183.90" y2="414.80" stroke="#f07d19" stroke-width="1.30"/>
<line x1="181.30" y1="395.90" x2="186.50" y2="395.90" stroke="#f07d19" stroke-width="1.30"/>
<line x1="181.30" y1="414.80" x2="186.50" y2="414.80" stroke="#f07d19" stroke-width="1.30"/>
<circle cx="183.90" cy="405.70" r="4.60" fill="#f07d19"/>
<line x1="202.00" y1="397.60" x2="202.00" y2="417.60" stroke="#f07d19" stroke-width="1.30"/>
<line x1="199.40" y1="397.60" x2="204.60" y2="397.60" stroke="#f07d19" stroke-width="1.30"/>
<line x1="199.40" y1="417.60" x2="204.60" y2="417.60" stroke="#f07d19" stroke-width="1.30"/>
<circle cx="202.00" cy="407.80" r="4.60" fill="#f07d19"/>
<line x1="220.40" y1="398.60" x2="220.40" y2="417.80" stroke="#f07d19" stroke-width="1.30"/>
<line x1="217.80" y1="398.60" x2="223.00" y2="398.60" stroke="#f07d19" stroke-width="1.30"/>
<line x1="217.80" y1="417.80" x2="223.00" y2="417.80" stroke="#f07d19" stroke-width="1.30"/>
<circle cx="220.40" cy="408.20" r="4.60" fill="#f07d19"/>
<line x1="238.80" y1="396.00" x2="238.80" y2="414.60" stroke="#f07d19" stroke-width="1.30"/>
<line x1="236.20" y1="396.00" x2="241.40" y2="396.00" stroke="#f07d19" stroke-width="1.30"/>
<line x1="236.20" y1="414.60" x2="241.40" y2="414.60" stroke="#f07d19" stroke-width="1.30"/>
<circle cx="238.80" cy="405.30" r="4.60" fill="#f07d19"/>
<line x1="263.90" y1="282.20" x2="263.90" y2="301.00" stroke="#558228" stroke-width="1.30"/>
<line x1="261.30" y1="282.20" x2="266.50" y2="282.20" stroke="#558228" stroke-width="1.30"/>
<line x1="261.30" y1="301.00" x2="266.50" y2="301.00" stroke="#558228" stroke-width="1.30"/>
<polygon points="263.90,285.70 270.20,292.00 263.90,298.30 257.60,292.00" fill="#558228"/>
<line x1="281.30" y1="276.20" x2="281.30" y2="294.50" stroke="#558228" stroke-width="1.30"/>
<line x1="278.70" y1="276.20" x2="283.90" y2="276.20" stroke="#558228" stroke-width="1.30"/>
<line x1="278.70" y1="294.50" x2="283.90" y2="294.50" stroke="#558228" stroke-width="1.30"/>
<polygon points="281.30,278.70 287.60,285.00 281.30,291.30 275.00,285.00" fill="#558228"/>
<line x1="298.70" y1="284.70" x2="298.70" y2="303.50" stroke="#558228" stroke-width="1.30"/>
<line x1="296.10" y1="284.70" x2="301.30" y2="284.70" stroke="#558228" stroke-width="1.30"/>
<line x1="296.10" y1="303.50" x2="301.30" y2="303.50" stroke="#558228" stroke-width="1.30"/>
<polygon points="298.70,287.90 305.00,294.20 298.70,300.50 292.40,294.20" fill="#558228"/>
<line x1="316.60" y1="298.10" x2="316.60" y2="316.90" stroke="#558228" stroke-width="1.30"/>
<line x1="314.00" y1="298.10" x2="319.20" y2="298.10" stroke="#558228" stroke-width="1.30"/>
<line x1="314.00" y1="316.90" x2="319.20" y2="316.90" stroke="#558228" stroke-width="1.30"/>
<polygon points="316.60,301.30 322.90,307.60 316.60,313.90 310.30,307.60" fill="#558228"/>
<line x1="334.40" y1="292.50" x2="334.40" y2="312.10" stroke="#558228" stroke-width="1.30"/>
<line x1="331.80" y1="292.50" x2="337.00" y2="292.50" stroke="#558228" stroke-width="1.30"/>
<line x1="331.80" y1="312.10" x2="337.00" y2="312.10" stroke="#558228" stroke-width="1.30"/>
<polygon points="334.40,296.40 340.70,302.70 334.40,309.00 328.10,302.70" fill="#558228"/>
<line x1="351.80" y1="285.80" x2="351.80" y2="305.60" stroke="#558228" stroke-width="1.30"/>
<line x1="349.20" y1="285.80" x2="354.40" y2="285.80" stroke="#558228" stroke-width="1.30"/>
<line x1="349.20" y1="305.60" x2="354.40" y2="305.60" stroke="#558228" stroke-width="1.30"/>
<polygon points="351.80,289.50 358.10,295.80 351.80,302.10 345.50,295.80" fill="#558228"/>
<line x1="369.80" y1="308.70" x2="369.80" y2="327.10" stroke="#558228" stroke-width="1.30"/>
<line x1="367.20" y1="308.70" x2="372.40" y2="308.70" stroke="#558228" stroke-width="1.30"/>
<line x1="367.20" y1="327.10" x2="372.40" y2="327.10" stroke="#558228" stroke-width="1.30"/>
<polygon points="369.80,311.50 376.10,317.80 369.80,324.10 363.50,317.80" fill="#558228"/>
<line x1="386.90" y1="349.90" x2="386.90" y2="368.50" stroke="#558228" stroke-width="1.30"/>
<line x1="384.30" y1="349.90" x2="389.50" y2="349.90" stroke="#558228" stroke-width="1.30"/>
<line x1="384.30" y1="368.50" x2="389.50" y2="368.50" stroke="#558228" stroke-width="1.30"/>
<polygon points="386.90,352.90 393.20,359.20 386.90,365.50 380.60,359.20" fill="#558228"/>
<line x1="404.50" y1="377.30" x2="404.50" y2="395.20" stroke="#558228" stroke-width="1.30"/>
<line x1="401.90" y1="377.30" x2="407.10" y2="377.30" stroke="#558228" stroke-width="1.30"/>
<line x1="401.90" y1="395.20" x2="407.10" y2="395.20" stroke="#558228" stroke-width="1.30"/>
<polygon points="404.50,379.90 410.80,386.20 404.50,392.50 398.20,386.20" fill="#558228"/>
<line x1="422.20" y1="386.80" x2="422.20" y2="403.60" stroke="#558228" stroke-width="1.30"/>
<line x1="419.60" y1="386.80" x2="424.80" y2="386.80" stroke="#558228" stroke-width="1.30"/>
<line x1="419.60" y1="403.60" x2="424.80" y2="403.60" stroke="#558228" stroke-width="1.30"/>
<polygon points="422.20,389.00 428.50,395.30 422.20,401.60 415.90,395.30" fill="#558228"/>
<line x1="263.90" y1="379.20" x2="263.90" y2="399.10" stroke="#f07d19" stroke-width="1.30"/>
<line x1="261.30" y1="379.20" x2="266.50" y2="379.20" stroke="#f07d19" stroke-width="1.30"/>
<line x1="261.30" y1="399.10" x2="266.50" y2="399.10" stroke="#f07d19" stroke-width="1.30"/>
<circle cx="263.90" cy="389.00" r="4.60" fill="#f07d19"/>
<line x1="281.30" y1="398.00" x2="281.30" y2="416.70" stroke="#f07d19" stroke-width="1.30"/>
<line x1="278.70" y1="398.00" x2="283.90" y2="398.00" stroke="#f07d19" stroke-width="1.30"/>
<line x1="278.70" y1="416.70" x2="283.90" y2="416.70" stroke="#f07d19" stroke-width="1.30"/>
<circle cx="281.30" cy="408.20" r="4.60" fill="#f07d19"/>
<line x1="298.70" y1="392.60" x2="298.70" y2="411.30" stroke="#f07d19" stroke-width="1.30"/>
<line x1="296.10" y1="392.60" x2="301.30" y2="392.60" stroke="#f07d19" stroke-width="1.30"/>
<line x1="296.10" y1="411.30" x2="301.30" y2="411.30" stroke="#f07d19" stroke-width="1.30"/>
<circle cx="298.70" cy="401.70" r="4.60" fill="#f07d19"/>
<line x1="316.50" y1="378.50" x2="316.50" y2="397.40" stroke="#f07d19" stroke-width="1.30"/>
<line x1="313.90" y1="378.50" x2="319.10" y2="378.50" stroke="#f07d19" stroke-width="1.30"/>
<line x1="313.90" y1="397.40" x2="319.10" y2="397.40" stroke="#f07d19" stroke-width="1.30"/>
<circle cx="316.50" cy="387.80" r="4.60" fill="#f07d19"/>
<line x1="334.30" y1="379.30" x2="334.30" y2="399.20" stroke="#f07d19" stroke-width="1.30"/>
<line x1="331.70" y1="379.30" x2="336.90" y2="379.30" stroke="#f07d19" stroke-width="1.30"/>
<line x1="331.70" y1="399.20" x2="336.90" y2="399.20" stroke="#f07d19" stroke-width="1.30"/>
<circle cx="334.30" cy="389.20" r="4.60" fill="#f07d19"/>
<line x1="351.70" y1="389.70" x2="351.70" y2="409.20" stroke="#f07d19" stroke-width="1.30"/>
<line x1="349.10" y1="389.70" x2="354.30" y2="389.70" stroke="#f07d19" stroke-width="1.30"/>
<line x1="349.10" y1="409.20" x2="354.30" y2="409.20" stroke="#f07d19" stroke-width="1.30"/>
<circle cx="351.70" cy="398.80" r="4.60" fill="#f07d19"/>
<line x1="369.20" y1="386.00" x2="369.20" y2="405.90" stroke="#f07d19" stroke-width="1.30"/>
<line x1="366.60" y1="386.00" x2="371.80" y2="386.00" stroke="#f07d19" stroke-width="1.30"/>
<line x1="366.60" y1="405.90" x2="371.80" y2="405.90" stroke="#f07d19" stroke-width="1.30"/>
<circle cx="369.20" cy="395.70" r="4.60" fill="#f07d19"/>
<line x1="386.90" y1="382.20" x2="386.90" y2="401.00" stroke="#f07d19" stroke-width="1.30"/>
<line x1="384.30" y1="382.20" x2="389.50" y2="382.20" stroke="#f07d19" stroke-width="1.30"/>
<line x1="384.30" y1="401.00" x2="389.50" y2="401.00" stroke="#f07d19" stroke-width="1.30"/>
<circle cx="386.90" cy="392.50" r="4.60" fill="#f07d19"/>
<line x1="404.30" y1="389.50" x2="404.30" y2="409.10" stroke="#f07d19" stroke-width="1.30"/>
<line x1="401.70" y1="389.50" x2="406.90" y2="389.50" stroke="#f07d19" stroke-width="1.30"/>
<line x1="401.70" y1="409.10" x2="406.90" y2="409.10" stroke="#f07d19" stroke-width="1.30"/>
<circle cx="404.30" cy="399.30" r="4.60" fill="#f07d19"/>
<line x1="422.20" y1="397.40" x2="422.20" y2="416.10" stroke="#f07d19" stroke-width="1.30"/>
<line x1="419.60" y1="397.40" x2="424.80" y2="397.40" stroke="#f07d19" stroke-width="1.30"/>
<line x1="419.60" y1="416.10" x2="424.80" y2="416.10" stroke="#f07d19" stroke-width="1.30"/>
<circle cx="422.20" cy="407.10" r="4.60" fill="#f07d19"/>
<line x1="67.25" y1="210.10" x2="72.25" y2="210.10" stroke="#111" stroke-width="1.50"/>
<line x1="67.25" y1="198.90" x2="74.75" y2="198.90" stroke="#111" stroke-width="1.50"/>
<line x1="67.25" y1="187.70" x2="72.25" y2="187.70" stroke="#111" stroke-width="1.50"/>
<line x1="67.25" y1="176.49" x2="72.25" y2="176.49" stroke="#111" stroke-width="1.50"/>
<line x1="67.25" y1="165.29" x2="72.25" y2="165.29" stroke="#111" stroke-width="1.50"/>
<line x1="67.25" y1="154.08" x2="74.75" y2="154.08" stroke="#111" stroke-width="1.50"/>
<line x1="67.25" y1="142.88" x2="72.25" y2="142.88" stroke="#111" stroke-width="1.50"/>
<line x1="67.25" y1="131.68" x2="72.25" y2="131.68" stroke="#111" stroke-width="1.50"/>
<line x1="67.25" y1="120.47" x2="72.25" y2="120.47" stroke="#111" stroke-width="1.50"/>
<line x1="67.25" y1="109.27" x2="74.75" y2="109.27" stroke="#111" stroke-width="1.50"/>
<line x1="67.25" y1="98.06" x2="72.25" y2="98.06" stroke="#111" stroke-width="1.50"/>
<line x1="67.25" y1="86.86" x2="72.25" y2="86.86" stroke="#111" stroke-width="1.50"/>
<line x1="67.25" y1="75.66" x2="72.25" y2="75.66" stroke="#111" stroke-width="1.50"/>
<line x1="67.25" y1="64.45" x2="74.75" y2="64.45" stroke="#111" stroke-width="1.50"/>
<line x1="67.25" y1="53.25" x2="72.25" y2="53.25" stroke="#111" stroke-width="1.50"/>
<line x1="67.25" y1="42.04" x2="72.25" y2="42.04" stroke="#111" stroke-width="1.50"/>
<line x1="67.25" y1="30.84" x2="72.25" y2="30.84" stroke="#111" stroke-width="1.50"/>
<line x1="67.25" y1="413.62" x2="72.25" y2="413.62" stroke="#111" stroke-width="1.50"/>
<line x1="67.25" y1="404.00" x2="74.75" y2="404.00" stroke="#111" stroke-width="1.50"/>
<line x1="67.25" y1="394.38" x2="72.25" y2="394.38" stroke="#111" stroke-width="1.50"/>
<line x1="67.25" y1="384.77" x2="72.25" y2="384.77" stroke="#111" stroke-width="1.50"/>
<line x1="67.25" y1="375.15" x2="72.25" y2="375.15" stroke="#111" stroke-width="1.50"/>
<line x1="67.25" y1="365.53" x2="74.75" y2="365.53" stroke="#111" stroke-width="1.50"/>
<line x1="67.25" y1="355.91" x2="72.25" y2="355.91" stroke="#111" stroke-width="1.50"/>
<line x1="67.25" y1="346.30" x2="72.25" y2="346.30" stroke="#111" stroke-width="1.50"/>
<line x1="67.25" y1="336.68" x2="72.25" y2="336.68" stroke="#111" stroke-width="1.50"/>
<line x1="67.25" y1="327.06" x2="74.75" y2="327.06" stroke="#111" stroke-width="1.50"/>
<line x1="67.25" y1="317.45" x2="72.25" y2="317.45" stroke="#111" stroke-width="1.50"/>
<line x1="67.25" y1="307.83" x2="72.25" y2="307.83" stroke="#111" stroke-width="1.50"/>
<line x1="67.25" y1="298.21" x2="72.25" y2="298.21" stroke="#111" stroke-width="1.50"/>
<line x1="67.25" y1="288.60" x2="74.75" y2="288.60" stroke="#111" stroke-width="1.50"/>
<line x1="67.25" y1="278.98" x2="72.25" y2="278.98" stroke="#111" stroke-width="1.50"/>
<line x1="67.25" y1="269.36" x2="72.25" y2="269.36" stroke="#111" stroke-width="1.50"/>
<line x1="67.25" y1="259.75" x2="72.25" y2="259.75" stroke="#111" stroke-width="1.50"/>
<line x1="67.25" y1="250.13" x2="74.75" y2="250.13" stroke="#111" stroke-width="1.50"/>
<line x1="67.25" y1="240.51" x2="72.25" y2="240.51" stroke="#111" stroke-width="1.50"/>
<line x1="67.25" y1="230.89" x2="72.25" y2="230.89" stroke="#111" stroke-width="1.50"/>
<line x1="247.90" y1="210.10" x2="253.90" y2="210.10" stroke="#111" stroke-width="1.50"/>
<line x1="246.90" y1="198.90" x2="258.00" y2="198.90" stroke="#111" stroke-width="1.50"/>
<line x1="247.90" y1="187.70" x2="253.90" y2="187.70" stroke="#111" stroke-width="1.50"/>
<line x1="247.90" y1="176.49" x2="253.90" y2="176.49" stroke="#111" stroke-width="1.50"/>
<line x1="247.90" y1="165.29" x2="253.90" y2="165.29" stroke="#111" stroke-width="1.50"/>
<line x1="246.90" y1="154.08" x2="258.00" y2="154.08" stroke="#111" stroke-width="1.50"/>
<line x1="247.90" y1="142.88" x2="253.90" y2="142.88" stroke="#111" stroke-width="1.50"/>
<line x1="247.90" y1="131.68" x2="253.90" y2="131.68" stroke="#111" stroke-width="1.50"/>
<line x1="247.90" y1="120.47" x2="253.90" y2="120.47" stroke="#111" stroke-width="1.50"/>
<line x1="246.90" y1="109.27" x2="258.00" y2="109.27" stroke="#111" stroke-width="1.50"/>
<line x1="247.90" y1="98.06" x2="253.90" y2="98.06" stroke="#111" stroke-width="1.50"/>
<line x1="247.90" y1="86.86" x2="253.90" y2="86.86" stroke="#111" stroke-width="1.50"/>
<line x1="247.90" y1="75.66" x2="253.90" y2="75.66" stroke="#111" stroke-width="1.50"/>
<line x1="246.90" y1="64.45" x2="258.00" y2="64.45" stroke="#111" stroke-width="1.50"/>
<line x1="247.90" y1="53.25" x2="253.90" y2="53.25" stroke="#111" stroke-width="1.50"/>
<line x1="247.90" y1="42.04" x2="253.90" y2="42.04" stroke="#111" stroke-width="1.50"/>
<line x1="247.90" y1="30.84" x2="253.90" y2="30.84" stroke="#111" stroke-width="1.50"/>
<line x1="247.90" y1="413.62" x2="253.90" y2="413.62" stroke="#111" stroke-width="1.50"/>
<line x1="246.90" y1="404.00" x2="258.00" y2="404.00" stroke="#111" stroke-width="1.50"/>
<line x1="247.90" y1="394.38" x2="253.90" y2="394.38" stroke="#111" stroke-width="1.50"/>
<line x1="247.90" y1="384.77" x2="253.90" y2="384.77" stroke="#111" stroke-width="1.50"/>
<line x1="247.90" y1="375.15" x2="253.90" y2="375.15" stroke="#111" stroke-width="1.50"/>
<line x1="246.90" y1="365.53" x2="258.00" y2="365.53" stroke="#111" stroke-width="1.50"/>
<line x1="247.90" y1="355.91" x2="253.90" y2="355.91" stroke="#111" stroke-width="1.50"/>
<line x1="247.90" y1="346.30" x2="253.90" y2="346.30" stroke="#111" stroke-width="1.50"/>
<line x1="247.90" y1="336.68" x2="253.90" y2="336.68" stroke="#111" stroke-width="1.50"/>
<line x1="246.90" y1="327.06" x2="258.00" y2="327.06" stroke="#111" stroke-width="1.50"/>
<line x1="247.90" y1="317.45" x2="253.90" y2="317.45" stroke="#111" stroke-width="1.50"/>
<line x1="247.90" y1="307.83" x2="253.90" y2="307.83" stroke="#111" stroke-width="1.50"/>
<line x1="247.90" y1="298.21" x2="253.90" y2="298.21" stroke="#111" stroke-width="1.50"/>
<line x1="246.90" y1="288.60" x2="258.00" y2="288.60" stroke="#111" stroke-width="1.50"/>
<line x1="247.90" y1="278.98" x2="253.90" y2="278.98" stroke="#111" stroke-width="1.50"/>
<line x1="247.90" y1="269.36" x2="253.90" y2="269.36" stroke="#111" stroke-width="1.50"/>
<line x1="247.90" y1="259.75" x2="253.90" y2="259.75" stroke="#111" stroke-width="1.50"/>
<line x1="246.90" y1="250.13" x2="258.00" y2="250.13" stroke="#111" stroke-width="1.50"/>
<line x1="247.90" y1="240.51" x2="253.90" y2="240.51" stroke="#111" stroke-width="1.50"/>
<line x1="247.90" y1="230.89" x2="253.90" y2="230.89" stroke="#111" stroke-width="1.50"/>
<line x1="243.90" y1="19.90" x2="243.90" y2="23.60" stroke="#111" stroke-width="1.30"/>
<line x1="243.90" y1="423.90" x2="243.90" y2="420.20" stroke="#111" stroke-width="1.30"/>
<line x1="243.90" y1="218.40" x2="243.90" y2="226.00" stroke="#111" stroke-width="1.30"/>
<line x1="419.90" y1="19.90" x2="419.90" y2="23.60" stroke="#111" stroke-width="1.30"/>
<line x1="419.90" y1="423.90" x2="419.90" y2="420.20" stroke="#111" stroke-width="1.30"/>
<line x1="419.90" y1="218.40" x2="419.90" y2="226.00" stroke="#111" stroke-width="1.30"/>
<line x1="228.00" y1="19.90" x2="228.00" y2="26.40" stroke="#111" stroke-width="1.50"/>
<line x1="228.00" y1="423.90" x2="228.00" y2="416.90" stroke="#111" stroke-width="1.50"/>
<line x1="228.00" y1="214.80" x2="228.00" y2="229.60" stroke="#111" stroke-width="1.50"/>
<line x1="406.30" y1="19.90" x2="406.30" y2="26.40" stroke="#111" stroke-width="1.50"/>
<line x1="406.30" y1="423.90" x2="406.30" y2="416.90" stroke="#111" stroke-width="1.50"/>
<line x1="406.30" y1="214.80" x2="406.30" y2="229.60" stroke="#111" stroke-width="1.50"/>
<line x1="213.90" y1="19.90" x2="213.90" y2="23.60" stroke="#111" stroke-width="1.30"/>
<line x1="213.90" y1="423.90" x2="213.90" y2="420.20" stroke="#111" stroke-width="1.30"/>
<line x1="213.90" y1="218.40" x2="213.90" y2="226.00" stroke="#111" stroke-width="1.30"/>
<line x1="392.00" y1="19.90" x2="392.00" y2="23.60" stroke="#111" stroke-width="1.30"/>
<line x1="392.00" y1="423.90" x2="392.00" y2="420.20" stroke="#111" stroke-width="1.30"/>
<line x1="392.00" y1="218.40" x2="392.00" y2="226.00" stroke="#111" stroke-width="1.30"/>
<line x1="199.90" y1="19.90" x2="199.90" y2="23.60" stroke="#111" stroke-width="1.30"/>
<line x1="199.90" y1="423.90" x2="199.90" y2="420.20" stroke="#111" stroke-width="1.30"/>
<line x1="199.90" y1="218.40" x2="199.90" y2="226.00" stroke="#111" stroke-width="1.30"/>
<line x1="377.90" y1="19.90" x2="377.90" y2="23.60" stroke="#111" stroke-width="1.30"/>
<line x1="377.90" y1="423.90" x2="377.90" y2="420.20" stroke="#111" stroke-width="1.30"/>
<line x1="377.90" y1="218.40" x2="377.90" y2="226.00" stroke="#111" stroke-width="1.30"/>
<line x1="184.10" y1="19.90" x2="184.10" y2="26.40" stroke="#111" stroke-width="1.50"/>
<line x1="184.10" y1="423.90" x2="184.10" y2="416.90" stroke="#111" stroke-width="1.50"/>
<line x1="184.10" y1="214.80" x2="184.10" y2="229.60" stroke="#111" stroke-width="1.50"/>
<line x1="363.60" y1="19.90" x2="363.60" y2="26.40" stroke="#111" stroke-width="1.50"/>
<line x1="363.60" y1="423.90" x2="363.60" y2="416.90" stroke="#111" stroke-width="1.50"/>
<line x1="363.60" y1="214.80" x2="363.60" y2="229.60" stroke="#111" stroke-width="1.50"/>
<line x1="170.20" y1="19.90" x2="170.20" y2="23.60" stroke="#111" stroke-width="1.30"/>
<line x1="170.20" y1="423.90" x2="170.20" y2="420.20" stroke="#111" stroke-width="1.30"/>
<line x1="170.20" y1="218.40" x2="170.20" y2="226.00" stroke="#111" stroke-width="1.30"/>
<line x1="349.40" y1="19.90" x2="349.40" y2="23.60" stroke="#111" stroke-width="1.30"/>
<line x1="349.40" y1="423.90" x2="349.40" y2="420.20" stroke="#111" stroke-width="1.30"/>
<line x1="349.40" y1="218.40" x2="349.40" y2="226.00" stroke="#111" stroke-width="1.30"/>
<line x1="154.90" y1="19.90" x2="154.90" y2="23.60" stroke="#111" stroke-width="1.30"/>
<line x1="154.90" y1="423.90" x2="154.90" y2="420.20" stroke="#111" stroke-width="1.30"/>
<line x1="154.90" y1="218.40" x2="154.90" y2="226.00" stroke="#111" stroke-width="1.30"/>
<line x1="335.30" y1="19.90" x2="335.30" y2="23.60" stroke="#111" stroke-width="1.30"/>
<line x1="335.30" y1="423.90" x2="335.30" y2="420.20" stroke="#111" stroke-width="1.30"/>
<line x1="335.30" y1="218.40" x2="335.30" y2="226.00" stroke="#111" stroke-width="1.30"/>
<line x1="140.50" y1="19.90" x2="140.50" y2="26.40" stroke="#111" stroke-width="1.50"/>
<line x1="140.50" y1="423.90" x2="140.50" y2="416.90" stroke="#111" stroke-width="1.50"/>
<line x1="140.50" y1="214.80" x2="140.50" y2="229.60" stroke="#111" stroke-width="1.50"/>
<line x1="320.50" y1="19.90" x2="320.50" y2="26.40" stroke="#111" stroke-width="1.50"/>
<line x1="320.50" y1="423.90" x2="320.50" y2="416.90" stroke="#111" stroke-width="1.50"/>
<line x1="320.50" y1="214.80" x2="320.50" y2="229.60" stroke="#111" stroke-width="1.50"/>
<line x1="125.90" y1="19.90" x2="125.90" y2="23.60" stroke="#111" stroke-width="1.30"/>
<line x1="125.90" y1="423.90" x2="125.90" y2="420.20" stroke="#111" stroke-width="1.30"/>
<line x1="125.90" y1="218.40" x2="125.90" y2="226.00" stroke="#111" stroke-width="1.30"/>
<line x1="307.70" y1="19.90" x2="307.70" y2="23.60" stroke="#111" stroke-width="1.30"/>
<line x1="307.70" y1="423.90" x2="307.70" y2="420.20" stroke="#111" stroke-width="1.30"/>
<line x1="307.70" y1="218.40" x2="307.70" y2="226.00" stroke="#111" stroke-width="1.30"/>
<line x1="110.60" y1="19.90" x2="110.60" y2="23.60" stroke="#111" stroke-width="1.30"/>
<line x1="110.60" y1="423.90" x2="110.60" y2="420.20" stroke="#111" stroke-width="1.30"/>
<line x1="110.60" y1="218.40" x2="110.60" y2="226.00" stroke="#111" stroke-width="1.30"/>
<line x1="293.40" y1="19.90" x2="293.40" y2="23.60" stroke="#111" stroke-width="1.30"/>
<line x1="293.40" y1="423.90" x2="293.40" y2="420.20" stroke="#111" stroke-width="1.30"/>
<line x1="293.40" y1="218.40" x2="293.40" y2="226.00" stroke="#111" stroke-width="1.30"/>
<line x1="96.10" y1="19.90" x2="96.10" y2="26.40" stroke="#111" stroke-width="1.50"/>
<line x1="96.10" y1="423.90" x2="96.10" y2="416.90" stroke="#111" stroke-width="1.50"/>
<line x1="96.10" y1="214.80" x2="96.10" y2="229.60" stroke="#111" stroke-width="1.50"/>
<line x1="279.00" y1="19.90" x2="279.00" y2="26.40" stroke="#111" stroke-width="1.50"/>
<line x1="279.00" y1="423.90" x2="279.00" y2="416.90" stroke="#111" stroke-width="1.50"/>
<line x1="279.00" y1="214.80" x2="279.00" y2="229.60" stroke="#111" stroke-width="1.50"/>
<line x1="82.45" y1="19.90" x2="82.45" y2="23.60" stroke="#111" stroke-width="1.30"/>
<line x1="82.45" y1="423.90" x2="82.45" y2="420.20" stroke="#111" stroke-width="1.30"/>
<line x1="82.45" y1="218.40" x2="82.45" y2="226.00" stroke="#111" stroke-width="1.30"/>
<line x1="264.90" y1="19.90" x2="264.90" y2="23.60" stroke="#111" stroke-width="1.30"/>
<line x1="264.90" y1="423.90" x2="264.90" y2="420.20" stroke="#111" stroke-width="1.30"/>
<line x1="264.90" y1="218.40" x2="264.90" y2="226.00" stroke="#111" stroke-width="1.30"/>
<line x1="250.60" y1="19.90" x2="250.60" y2="423.90" stroke="#333" stroke-width="1.10"/>
<line x1="67.25" y1="222.20" x2="434.70" y2="222.20" stroke="#333" stroke-width="1.10"/>
<line x1="67.25" y1="198.90" x2="434.70" y2="198.90" stroke="#000" stroke-width="1.60"/>
<line x1="67.25" y1="404.35" x2="434.70" y2="404.35" stroke="#000" stroke-width="1.60"/>
<line x1="184.10" y1="19.90" x2="184.10" y2="423.90" stroke="#4a474a" stroke-width="1.60"/>
<line x1="363.60" y1="19.90" x2="363.60" y2="423.90" stroke="#000" stroke-width="1.10"/>
<path d="M67.2,19.9 H434.7 V423.9 H67.2 Z" fill="none" stroke="#000" stroke-width="1.9"/>
<text transform="translate(62.6,205.1) scale(1.16,1)" text-anchor="end" font-size="16.8" fill="#404040">0</text>
<text transform="translate(62.6,160.3) scale(1.16,1)" text-anchor="end" font-size="16.8" fill="#404040">4</text>
<text transform="translate(62.6,115.5) scale(1.16,1)" text-anchor="end" font-size="16.8" fill="#404040">8</text>
<text transform="translate(62.6,70.7) scale(1.16,1)" text-anchor="end" font-size="16.8" fill="#404040">12</text>
<text transform="translate(62.6,410.2) scale(1.16,1)" text-anchor="end" font-size="16.8" fill="#404040">0</text>
<text transform="translate(62.6,371.7) scale(1.16,1)" text-anchor="end" font-size="16.8" fill="#404040">4</text>
<text transform="translate(62.6,333.3) scale(1.16,1)" text-anchor="end" font-size="16.8" fill="#404040">8</text>
<text transform="translate(62.6,294.8) scale(1.16,1)" text-anchor="end" font-size="16.8" fill="#404040">12</text>
<text transform="translate(62.6,256.3) scale(1.16,1)" text-anchor="end" font-size="16.8" fill="#404040">16</text>
<text transform="translate(96.3,439.7) scale(1.33,1)" text-anchor="middle" font-size="13.6" fill="#404040">0.6</text>
<text transform="translate(140.3,439.7) scale(1.33,1)" text-anchor="middle" font-size="13.6" fill="#404040">0.3</text>
<text transform="translate(184.4,439.7) scale(1.33,1)" text-anchor="middle" font-size="13.6" fill="#404040">0</text>
<text transform="translate(279.2,439.7) scale(1.33,1)" text-anchor="middle" font-size="13.6" fill="#404040">0.6</text>
<text transform="translate(321.6,439.7) scale(1.33,1)" text-anchor="middle" font-size="13.6" fill="#404040">0.3</text>
<text transform="translate(363.9,439.7) scale(1.33,1)" text-anchor="middle" font-size="13.6" fill="#404040">0</text>
<text x="250.2" y="466" text-anchor="middle" font-size="17.6" stroke="#333" stroke-width="0.75" letter-spacing="0" fill="#333">Energy Loss (eV)</text>
<text transform="translate(27,231) rotate(-90)" text-anchor="middle" font-size="17" stroke="#333" stroke-width="0.75" letter-spacing="0.1" fill="#333">RIXS intensity (arb. u.)</text>
<text x="94.6" y="44.2" font-size="16" letter-spacing="-0.35" fill="#404040">YBCO<tspan font-size="12.2" dx="0.8" dy="4.3" letter-spacing="0.5">6.35</tspan></text>
<text x="272.2" y="44.2" font-size="16" letter-spacing="-0.3" fill="#404040">YBCO+Ca</text>
<text x="81.5" y="69.6" font-size="19" stroke="#de0a80" stroke-width="0.2" fill="#de0a80">ɑ)</text>
<text x="288.6" y="62.6" font-size="19" stroke="#de0a80" stroke-width="0.5" fill="#de0a80">b)</text>
<text x="83.5" y="249" font-size="19" stroke="#de0a80" stroke-width="0.4" fill="#de0a80">c)</text>
<text x="288.8" y="243" font-size="19" stroke="#de0a80" stroke-width="0.4" fill="#de0a80">d)</text>
<rect x="409.5" y="37.2" width="61" height="69.4" fill="#fff" filter="url(#sh)"/>
<line x1="413" y1="45.2" x2="441.5" y2="45.2" stroke="#0a5cab" stroke-width="4.6"/>
<text x="446.5" y="50.5" font-family='"Liberation Serif", serif' font-size="17" fill="#222">π</text>
<text x="456.2" y="53.6" font-size="12.3" font-weight="bold" fill="#333">in</text>
<line x1="413" y1="73.3" x2="422" y2="73.3" stroke="#111" stroke-width="1.9"/>
<line x1="433" y1="73.3" x2="441.5" y2="73.3" stroke="#111" stroke-width="1.9"/>
<rect x="423" y="69.2" width="8.4" height="8.4" fill="#000"/>
<text x="443.5" y="76.6" font-family='"Liberation Serif", serif' font-size="17" fill="#222">πσ′</text>
<line x1="413" y1="97" x2="421" y2="97" stroke="#e8402a" stroke-width="1.9"/>
<line x1="434" y1="97" x2="441.5" y2="97" stroke="#e8402a" stroke-width="1.9"/>
<polygon points="427.7,90.5 421.8,101.2 433.6,101.2" fill="#e8401e"/>
<text x="443.5" y="102.2" font-family='"Liberation Serif", serif' font-size="17" fill="#222">ππ′</text>
<rect x="407.8" y="236.2" width="62.4" height="77" fill="#fff" filter="url(#sh)"/>
<line x1="417.4" y1="246.9" x2="440.6" y2="246.9" stroke="#a0288e" stroke-width="6"/>
<text x="446.3" y="251.4" font-family='"Liberation Serif", serif' font-size="17" fill="#222">σ</text>
<text x="456.3" y="255" font-size="12.3" font-weight="bold" fill="#333">in</text>
<line x1="417.3" y1="274.6" x2="440.5" y2="274.6" stroke="#558228" stroke-width="2"/>
<polygon points="428.9,269.2 433.8,275 428.9,280.8 424,275" fill="#558228"/>
<text x="443.4" y="279.8" font-family='"Liberation Serif", serif' font-size="17" letter-spacing="1.1" fill="#222">σσ′</text>
<line x1="417.3" y1="301.5" x2="440.5" y2="301.5" stroke="#f07d19" stroke-width="2"/>
<circle cx="428.9" cy="301.5" r="4.8" fill="#f07d19"/>
<text x="444.3" y="304.8" font-family='"Liberation Serif", serif' font-size="17" letter-spacing="1.1" fill="#222">σπ′</text>
</svg>
</body></html>
